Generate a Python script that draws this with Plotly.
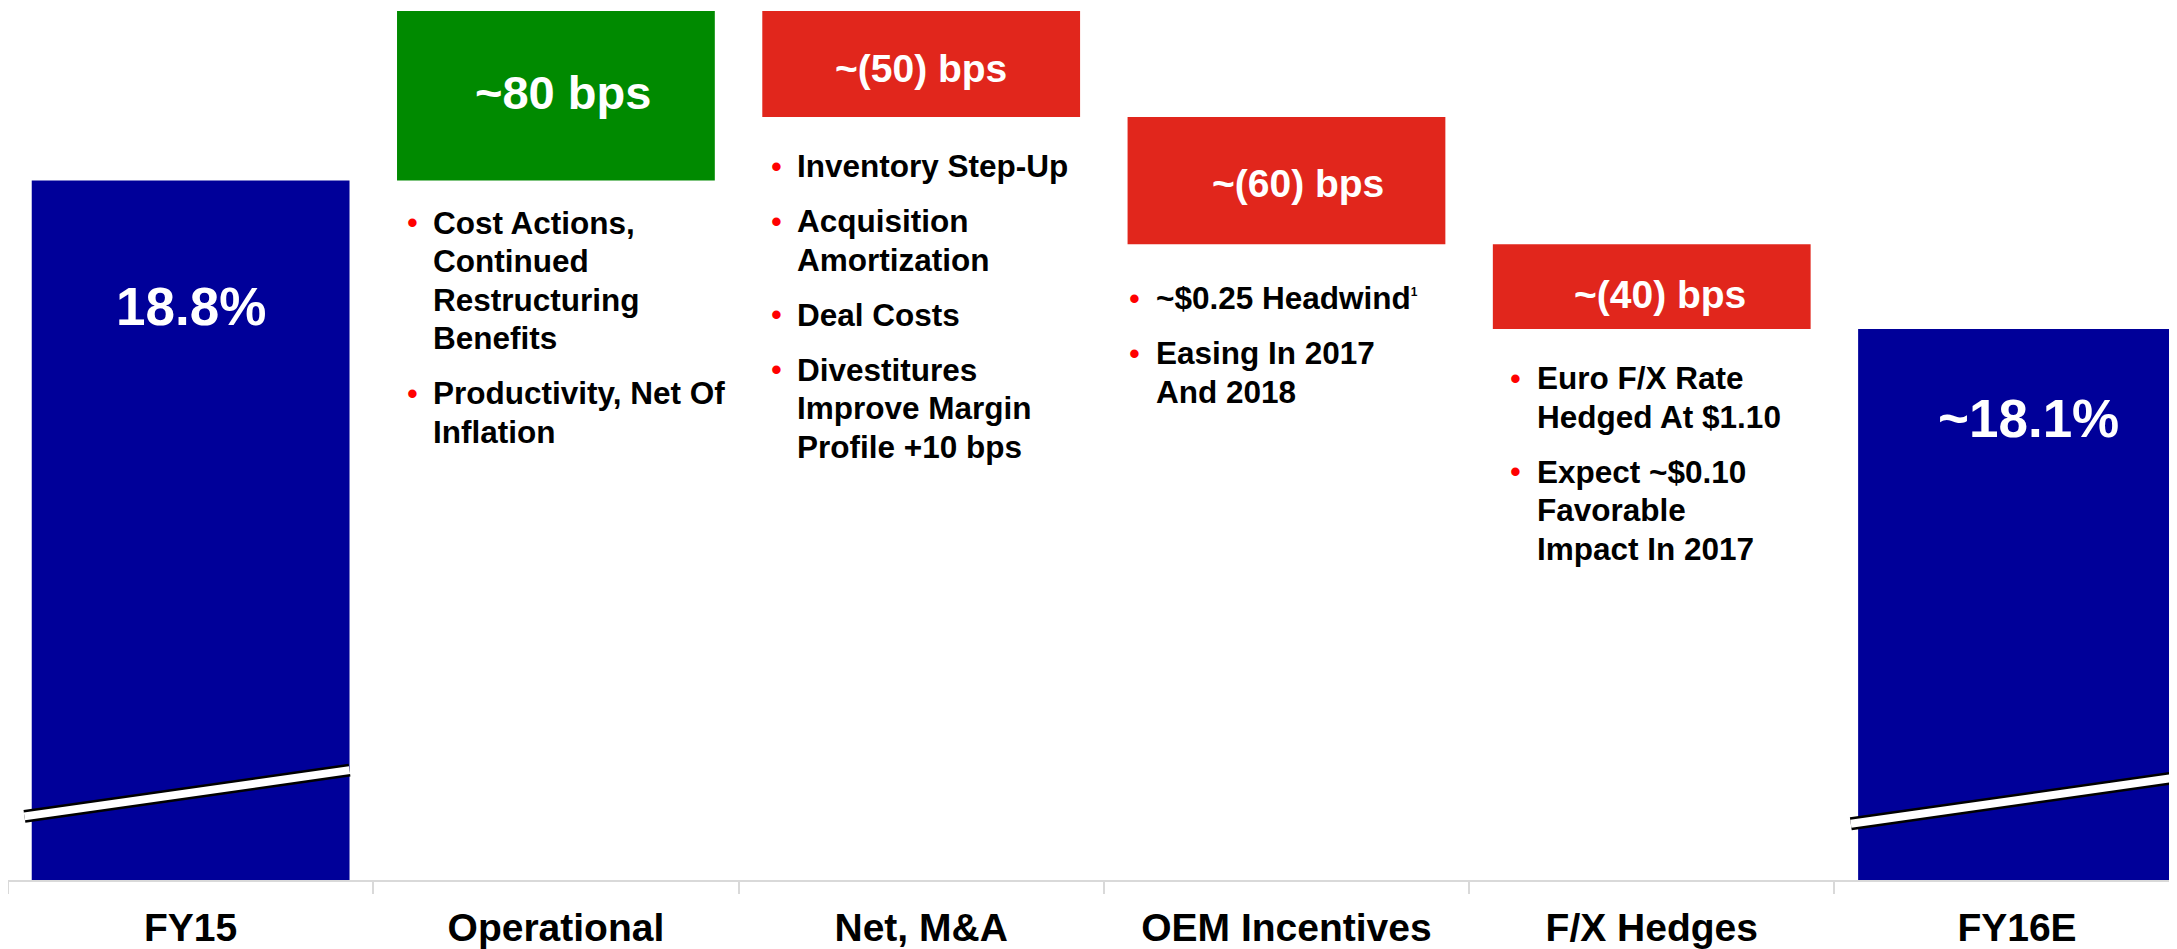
import plotly.graph_objects as go

# margin bridge, FY15 -> FY16E
categories = ['FY15', 'Operational', 'Net, M&A', 'OEM Incentives', 'F/X Hedges', 'FY16E']
measures = ['absolute', 'relative', 'relative', 'relative', 'relative', 'total']
changes = [18.8, 0.8, -0.5, -0.6, -0.4, 0.0]
bar_labels = ['18.8%', '~80 bps', '~(50) bps', '~(60) bps', '~(40) bps', '~18.1%']

notes = {
    1: [['Cost Actions,', 'Continued', 'Restructuring', 'Benefits'],
        ['Productivity, Net Of', 'Inflation']],
    2: [['Inventory Step-Up'],
        ['Acquisition', 'Amortization'],
        ['Deal Costs'],
        ['Divestitures', 'Improve Margin', 'Profile +10 bps']],
    3: [['~$0.25 Headwind<sup><span style="font-size:12px">1</span></sup>'],
        ['Easing In 2017', 'And 2018']],
    4: [['Euro F/X Rate', 'Hedged At $1.10'],
        ['Expect ~$0.10', 'Favorable', 'Impact In 2017']],
}

BLUE = '#000099'
GREEN = '#008A00'
RED = '#E1261C'
FONT = 'Liberation Sans, Arial, sans-serif'

# running levels of the bridge
ends = []
running = 0
for m, v in zip(measures, changes):
    if m == 'absolute':
        running = v
    elif m == 'relative':
        running += v
    ends.append(running)

fig = go.Figure()
fig.add_trace(go.Waterfall(x=categories,
                           y=changes,
                           measure=measures,
                           increasing=dict(marker=dict(color=GREEN)),
                           decreasing=dict(marker=dict(color=RED)),
                           totals=dict(marker=dict(color=BLUE)),
                           connector=dict(visible=False),
                           hoverinfo='skip',
                           textinfo='none'))

half_w = 0.435
y_floor = 15.502

# value labels
label_sizes = [53, 47, 39, 39, 39, 53]
label_dx = [0, 7, 0, 12, 8, 11]
label_dy = [-126, 3, -5, -3, -8, -89]
annotations = []
for i, txt in enumerate(bar_labels):
    if measures[i] == 'relative':
        y = (ends[i - 1] + ends[i]) / 2
    else:
        y = ends[i]
    annotations.append(dict(x=i, y=y, text=txt, showarrow=False,
                            xshift=label_dx[i], yshift=label_dy[i],
                            font=dict(family=FONT, size=label_sizes[i], color='white', weight='bold')))

# bullet notes under each step
note_gap = {1: 42, 2: 49, 3: 54, 4: 49}
dot_dx = {1: 15, 2: 14, 3: 7, 4: 23}
line_h = 38.5
bullet_gap = 16.5
for i, blocks in notes.items():
    bottom = min(ends[i - 1], ends[i])
    offset = note_gap[i]
    for block in blocks:
        annotations.append(dict(x=i - half_w, y=bottom, text='•', showarrow=False,
                                xanchor='center', yanchor='middle',
                                xshift=dot_dx[i], yshift=-offset,
                                font=dict(family=FONT, size=31, color='#FF0000')))
        for line in block:
            annotations.append(dict(x=i - half_w, y=bottom, text=line, showarrow=False,
                                    xanchor='left', yanchor='middle',
                                    xshift=dot_dx[i] + 19, yshift=-offset,
                                    font=dict(family=FONT, size=31.5, color='black', weight='bold')))
            offset += line_h
        offset += bullet_gap

# axis-break marks on the two totals
shapes = []
for i, lvl in [(0, y_floor + 0.30), (5, y_floor + 0.265)]:
    x0, x1 = i - 0.455, i + half_w
    y0, y1 = lvl, lvl + 0.245 * (x1 - x0)
    shapes.append(dict(type='line', xref='x', yref='y', x0=x0, x1=x1, y0=y0, y1=y1,
                       line=dict(color='black', width=13), layer='above'))
    shapes.append(dict(type='line', xref='x', yref='y', x0=x0, x1=x1, y0=y0, y1=y1,
                       line=dict(color='white', width=8), layer='above'))

# page body adds an 8px offset, so the figure is sized to fill the rest of the window
fig.update_layout(width=2169,
                  height=941,
                  margin=dict(l=0, r=0, t=0, b=69),
                  paper_bgcolor='white',
                  plot_bgcolor='white',
                  showlegend=False,
                  waterfallgap=0.13,
                  annotations=annotations,
                  shapes=shapes,
                  xaxis=dict(type='category', range=[-0.5, 5.438], showline=True, linecolor='#D9D9D9',
                             linewidth=2, ticks='outside', tickson='boundaries', ticklen=12,
                             tickcolor='#D9D9D9', tickwidth=2, showgrid=False, automargin=False,
                             ticklabelstandoff=12,
                             tickfont=dict(family=FONT, size=39, color='black', weight='bold')),
                  yaxis=dict(range=[y_floor, 19.614], visible=False, showgrid=False, zeroline=False,
                             automargin=False))

fig.write_html('out.html', config={'displayModeBar': False})
